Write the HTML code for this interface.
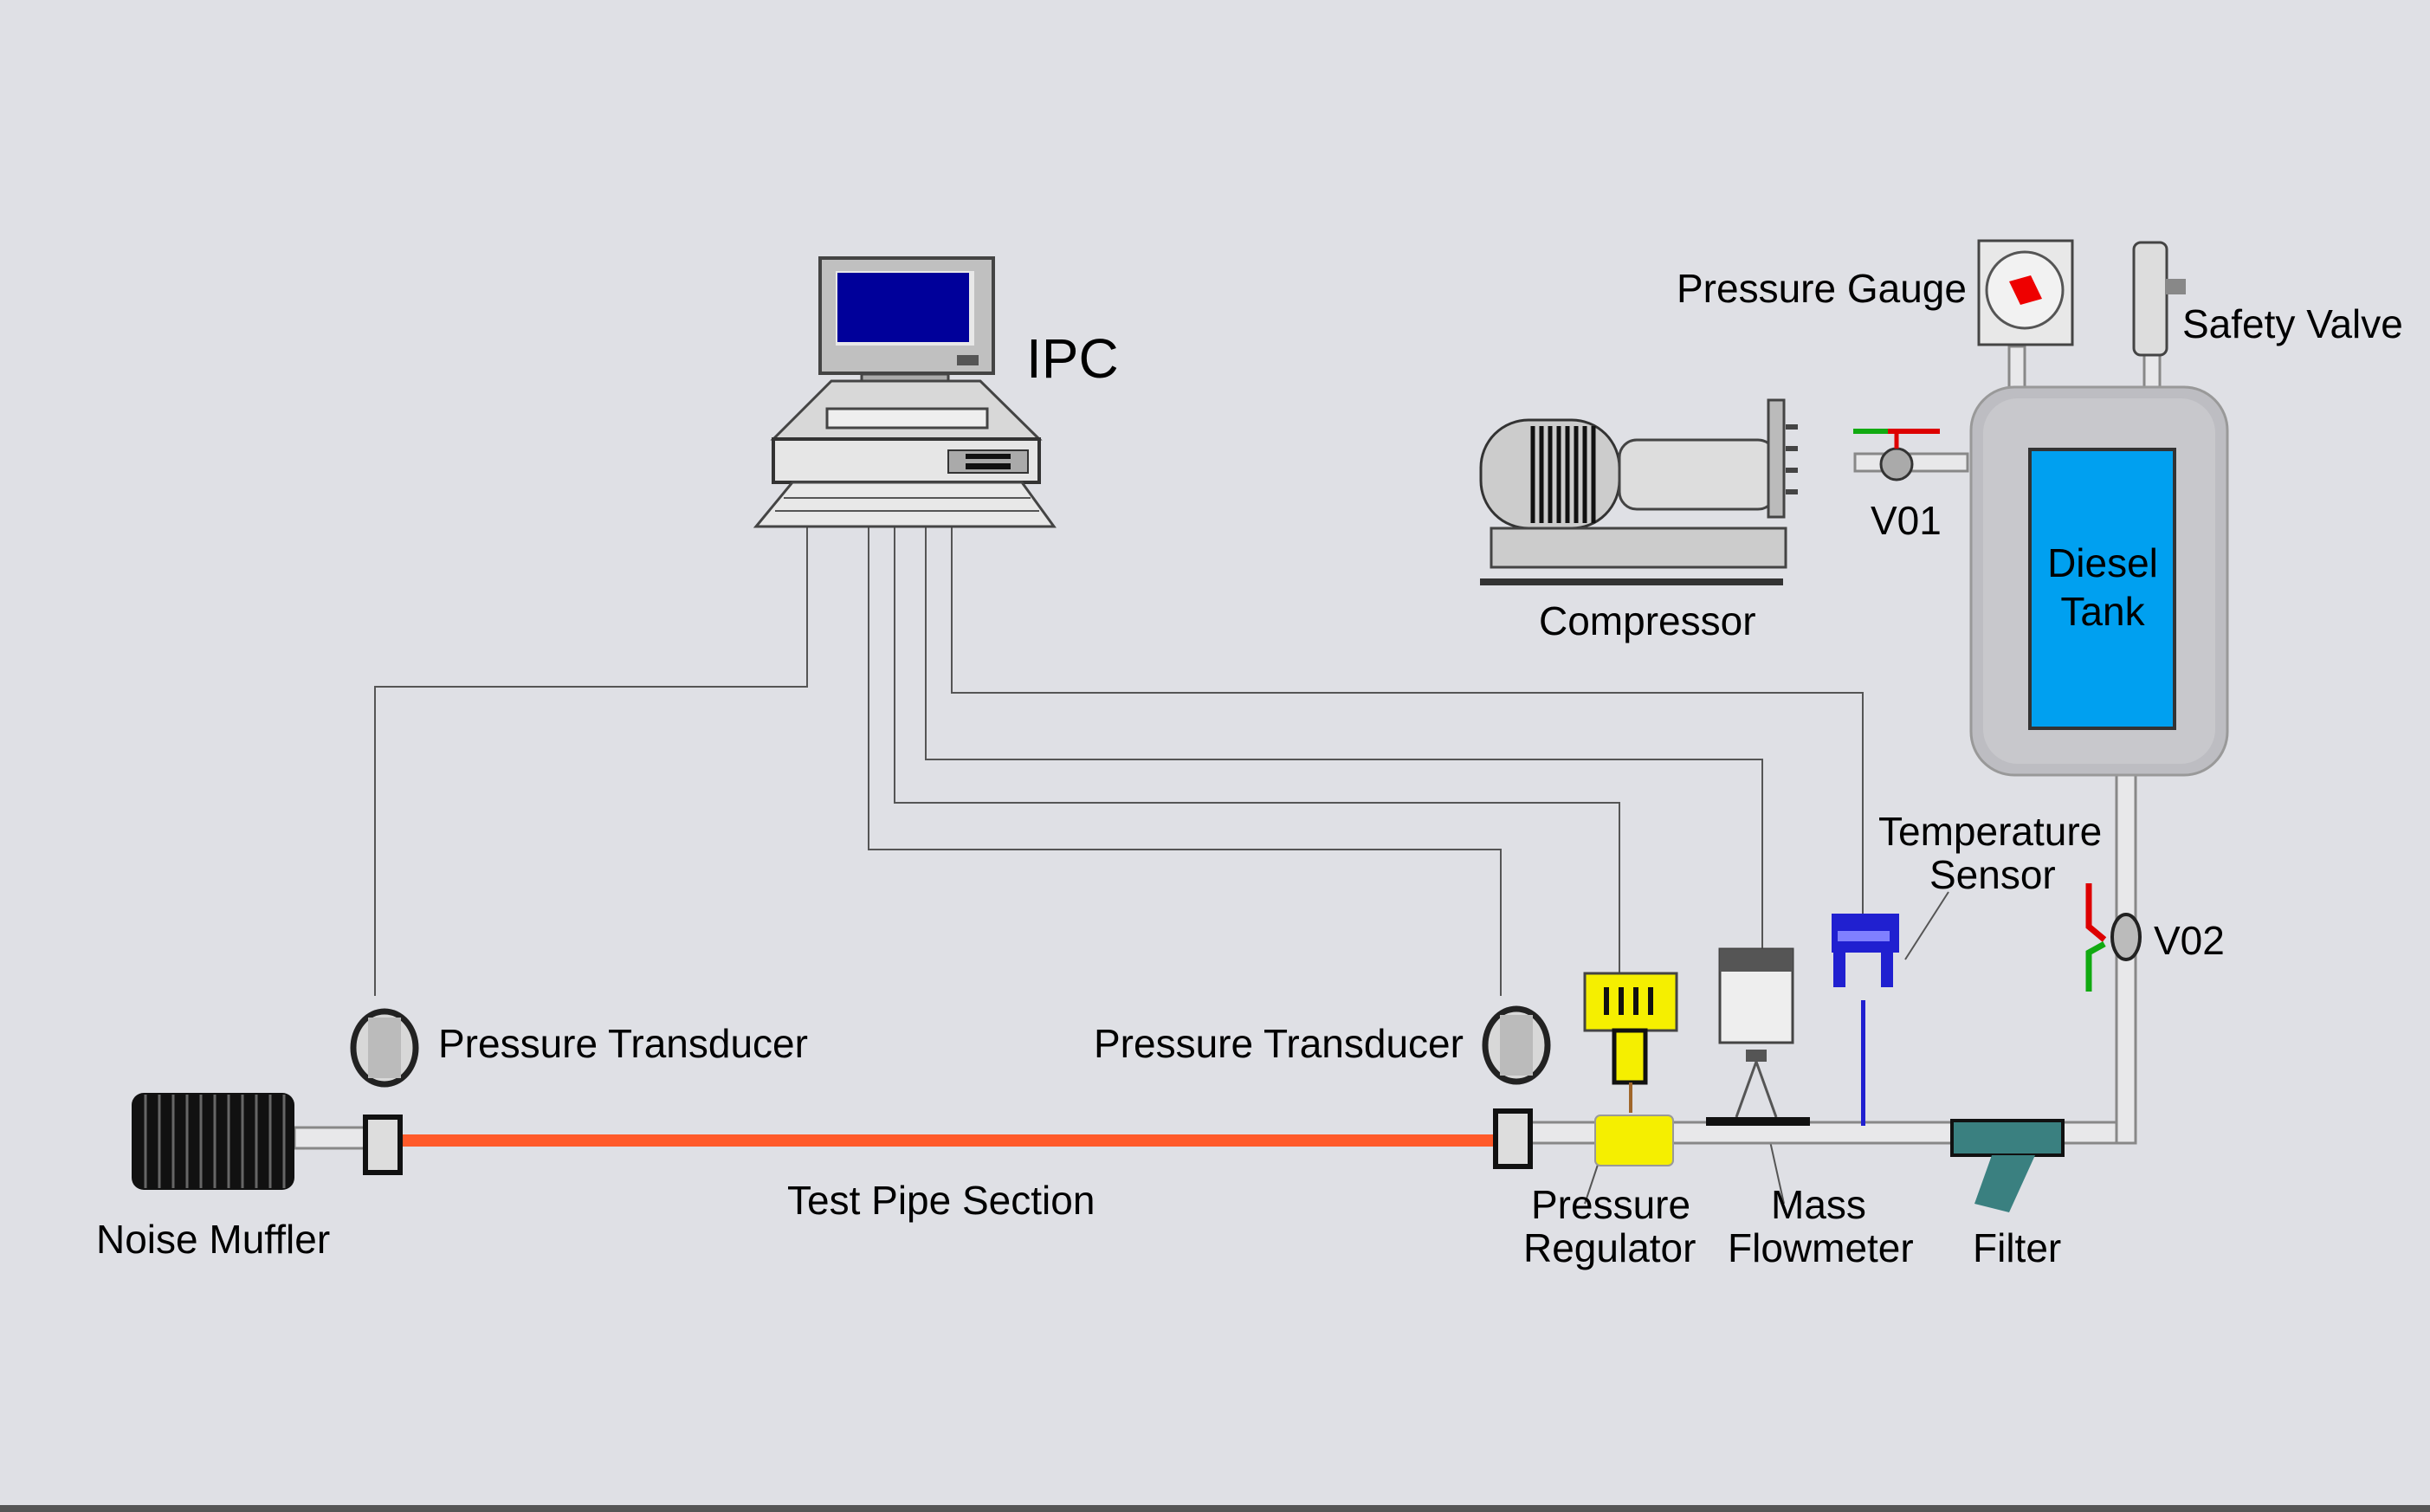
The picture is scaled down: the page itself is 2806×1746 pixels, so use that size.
<!DOCTYPE html>
<html><head><meta charset="utf-8"><style>
html,body{margin:0;padding:0;background:#dfe0e5;}
svg{display:block}
text{font-family:"Liberation Sans",Arial,sans-serif;fill:#000;}
</style></head><body>
<svg width="2806" height="1746" viewBox="0 0 2806 1746" xmlns="http://www.w3.org/2000/svg">
<rect width="2806" height="1746" fill="#dfe0e5"/>
<rect x="0" y="1738" width="2806" height="8" fill="#555"/>

<g fill="none" stroke="#555" stroke-width="2">
<polyline points="932,600 932,793 433,793 433,1150"/>
<polyline points="1003,600 1003,981 1733,981 1733,1150"/>
<polyline points="1033,600 1033,927 1870,927 1870,1125"/>
<polyline points="1069,600 1069,877 2035,877 2035,1095"/>
<polyline points="1099,600 1099,800 2151,800 2151,1058"/>
<line x1="2200" y1="1108" x2="2250" y2="1030"/>
<line x1="1850" y1="1330" x2="1830" y2="1390"/>
<line x1="2040" y1="1300" x2="2060" y2="1390"/>
</g>

<g>
<rect x="340" y="1302" width="90" height="24" fill="#e8e8ea" stroke="#888" stroke-width="3"/>
<rect x="1760" y="1296" width="706" height="24" fill="#e8e8ea" stroke="#888" stroke-width="3"/>
<rect x="2444" y="890" width="22" height="430" fill="#e8e8ea" stroke="#888" stroke-width="3"/>
<rect x="2142" y="524" width="130" height="20" fill="#e8e8ea" stroke="#888" stroke-width="3"/>
<rect x="2320" y="400" width="18" height="55" fill="#e8e8ea" stroke="#888" stroke-width="3"/>
<rect x="2476" y="410" width="18" height="45" fill="#e8e8ea" stroke="#888" stroke-width="3"/>
<rect x="465" y="1310" width="1262" height="14" fill="#ff5a2a"/>
</g>

<g>
<rect x="152" y="1262" width="188" height="112" rx="14" fill="#111"/>
<g stroke="#666" stroke-width="3">
<line x1="168" y1="1264" x2="168" y2="1372"/><line x1="184" y1="1264" x2="184" y2="1372"/>
<line x1="200" y1="1264" x2="200" y2="1372"/><line x1="216" y1="1264" x2="216" y2="1372"/>
<line x1="232" y1="1264" x2="232" y2="1372"/><line x1="248" y1="1264" x2="248" y2="1372"/>
<line x1="264" y1="1264" x2="264" y2="1372"/><line x1="280" y1="1264" x2="280" y2="1372"/>
<line x1="296" y1="1264" x2="296" y2="1372"/><line x1="312" y1="1264" x2="312" y2="1372"/>
<line x1="328" y1="1264" x2="328" y2="1372"/>
</g>
</g>

<g>
<rect x="422" y="1290" width="40" height="64" fill="#ddd" stroke="#111" stroke-width="6"/>
<rect x="1727" y="1283" width="40" height="64" fill="#ddd" stroke="#111" stroke-width="6"/>
<ellipse cx="444" cy="1210" rx="36" ry="42" fill="#d8d8d8" stroke="#222" stroke-width="7"/>
<rect x="425" y="1175" width="38" height="70" fill="#bbb"/>
<ellipse cx="1751" cy="1207" rx="36" ry="42" fill="#d8d8d8" stroke="#222" stroke-width="7"/>
<rect x="1732" y="1172" width="38" height="70" fill="#bbb"/>
</g>

<g>
<rect x="1830" y="1124" width="106" height="66" fill="#f5ef00" stroke="#444" stroke-width="3"/>
<g stroke="#111" stroke-width="6"><line x1="1855" y1="1140" x2="1855" y2="1172"/><line x1="1872" y1="1140" x2="1872" y2="1172"/><line x1="1889" y1="1140" x2="1889" y2="1172"/><line x1="1906" y1="1140" x2="1906" y2="1172"/></g>
<rect x="1864" y="1190" width="36" height="60" fill="#f5ef00" stroke="#111" stroke-width="5"/>
<line x1="1883" y1="1250" x2="1883" y2="1285" stroke="#a0662a" stroke-width="4"/>
<rect x="1842" y="1288" width="90" height="58" rx="6" fill="#f5ef00" stroke="#999" stroke-width="2"/>
</g>

<g>
<rect x="1986" y="1096" width="84" height="108" fill="#eee" stroke="#444" stroke-width="3"/>
<rect x="1986" y="1096" width="84" height="26" fill="#555"/>
<rect x="2016" y="1212" width="24" height="14" fill="#555"/>
<polyline points="2005,1290 2028,1226 2051,1290" fill="none" stroke="#555" stroke-width="3"/>
<rect x="1970" y="1290" width="120" height="10" fill="#111"/>
</g>

<g>
<rect x="2115" y="1055" width="78" height="45" fill="#2020d0"/>
<rect x="2122" y="1075" width="60" height="12" fill="#8080ff"/>
<rect x="2117" y="1100" width="14" height="40" fill="#2020d0"/>
<rect x="2172" y="1100" width="14" height="40" fill="#2020d0"/>
<rect x="2149" y="1155" width="5" height="145" fill="#2020d0"/>
</g>

<g>
<rect x="2254" y="1294" width="128" height="40" fill="#3a8080" stroke="#111" stroke-width="4"/>
<polygon points="2300,1334 2350,1334 2320,1400 2280,1390" fill="#3a8080"/>
</g>

<g>
<ellipse cx="2455" cy="1082" rx="16" ry="26" fill="#bbb" stroke="#222" stroke-width="4"/>
<polyline points="2412,1020 2412,1070 2430,1085" fill="none" stroke="#d00" stroke-width="7"/>
<polyline points="2430,1090 2412,1100 2412,1145" fill="none" stroke="#1a1" stroke-width="7"/>
</g>

<g>
<rect x="2276" y="447" width="296" height="448" rx="50" fill="#bdbdc2" stroke="#999" stroke-width="3"/>
<rect x="2290" y="460" width="268" height="422" rx="40" fill="#c8c8cc"/>
<rect x="2344" y="519" width="167" height="322" fill="#00a0f0" stroke="#333" stroke-width="4"/>
</g>

<g>
<rect x="2285" y="278" width="108" height="120" fill="#e8e8e8" stroke="#444" stroke-width="3"/>
<circle cx="2338" cy="335" r="44" fill="#f2f2f2" stroke="#555" stroke-width="3"/>
<polygon points="2320,325 2345,318 2358,345 2333,352" fill="#e00"/>
</g>

<g>
<rect x="2464" y="280" width="38" height="130" rx="8" fill="#ddd" stroke="#444" stroke-width="3"/>
<rect x="2500" y="322" width="24" height="18" fill="#888"/>
</g>

<g>
<rect x="1710" y="485" width="160" height="125" rx="55" fill="#ccc" stroke="#333" stroke-width="3"/>
<g stroke="#111" stroke-width="5"><line x1="1770" y1="492" x2="1770" y2="604"/><line x1="1780" y1="492" x2="1780" y2="604"/><line x1="1790" y1="492" x2="1790" y2="604"/><line x1="1800" y1="492" x2="1800" y2="604"/><line x1="1810" y1="492" x2="1810" y2="604"/><line x1="1820" y1="492" x2="1820" y2="604"/><line x1="1830" y1="492" x2="1830" y2="604"/><line x1="1840" y1="492" x2="1840" y2="604"/></g>
<rect x="1870" y="508" width="180" height="80" rx="20" fill="#ddd" stroke="#444" stroke-width="3"/>
<rect x="2042" y="462" width="18" height="135" fill="#bbb" stroke="#444" stroke-width="3"/>
<g fill="#444"><rect x="2062" y="490" width="14" height="6"/><rect x="2062" y="515" width="14" height="6"/><rect x="2062" y="540" width="14" height="6"/><rect x="2062" y="565" width="14" height="6"/></g>
<rect x="1722" y="610" width="340" height="45" fill="#ccc" stroke="#444" stroke-width="3"/>
<rect x="1709" y="668" width="350" height="8" fill="#333"/>
</g>

<g>
<circle cx="2190" cy="536" r="18" fill="#aaa" stroke="#333" stroke-width="3"/>
<line x1="2140" y1="498" x2="2180" y2="498" stroke="#1a1" stroke-width="6"/>
<line x1="2180" y1="498" x2="2240" y2="498" stroke="#d00" stroke-width="6"/>
<line x1="2190" y1="500" x2="2190" y2="518" stroke="#d00" stroke-width="5"/>
</g>

<g>
<rect x="947" y="298" width="200" height="133" fill="#c0c0c0" stroke="#444" stroke-width="4"/>
<rect x="965" y="313" width="160" height="86" fill="#e8e8e8"/>
<rect x="967" y="315" width="152" height="80" fill="#00009a"/>
<rect x="1105" y="410" width="25" height="12" fill="#555"/>
<rect x="995" y="432" width="100" height="20" fill="#aaa" stroke="#444" stroke-width="3"/>
<polygon points="960,440 1132,440 1200,507 893,507" fill="#d8d8d8" stroke="#444" stroke-width="3"/>
<rect x="955" y="472" width="185" height="22" fill="#eee" stroke="#444" stroke-width="3"/>
<rect x="893" y="507" width="307" height="50" fill="#e6e6e6" stroke="#333" stroke-width="4"/>
<rect x="1095" y="520" width="92" height="26" fill="#aaa" stroke="#333" stroke-width="2"/>
<rect x="1115" y="524" width="52" height="6" fill="#111"/><rect x="1115" y="535" width="52" height="7" fill="#111"/>
<polygon points="915,557 1180,557 1217,608 873,608" fill="#e8e8e8" stroke="#444" stroke-width="3"/>
<g stroke="#555" stroke-width="2"><line x1="905" y1="575" x2="1190" y2="575"/><line x1="895" y1="590" x2="1200" y2="590"/></g>
</g>

<g font-size="46">
<text x="1185" y="436" font-size="64">IPC</text>
<text x="1936" y="349">Pressure Gauge</text>
<text x="2520" y="390">Safety Valve</text>
<text x="2160" y="617">V01</text>
<text x="1777" y="733">Compressor</text>
<text x="2428" y="666" text-anchor="middle">Diesel</text>
<text x="2428" y="722" text-anchor="middle">Tank</text>
<text x="2169" y="976">Temperature</text>
<text x="2228" y="1026">Sensor</text>
<text x="2487" y="1102">V02</text>
<text x="506" y="1221">Pressure Transducer</text>
<text x="1263" y="1221">Pressure Transducer</text>
<text x="909" y="1402">Test Pipe Section</text>
<text x="111" y="1447">Noise Muffler</text>
<text x="1768" y="1407">Pressure</text>
<text x="1759" y="1457">Regulator</text>
<text x="2045" y="1407">Mass</text>
<text x="1995" y="1457">Flowmeter</text>
<text x="2278" y="1457">Filter</text>
</g>
</svg>
</body></html>
